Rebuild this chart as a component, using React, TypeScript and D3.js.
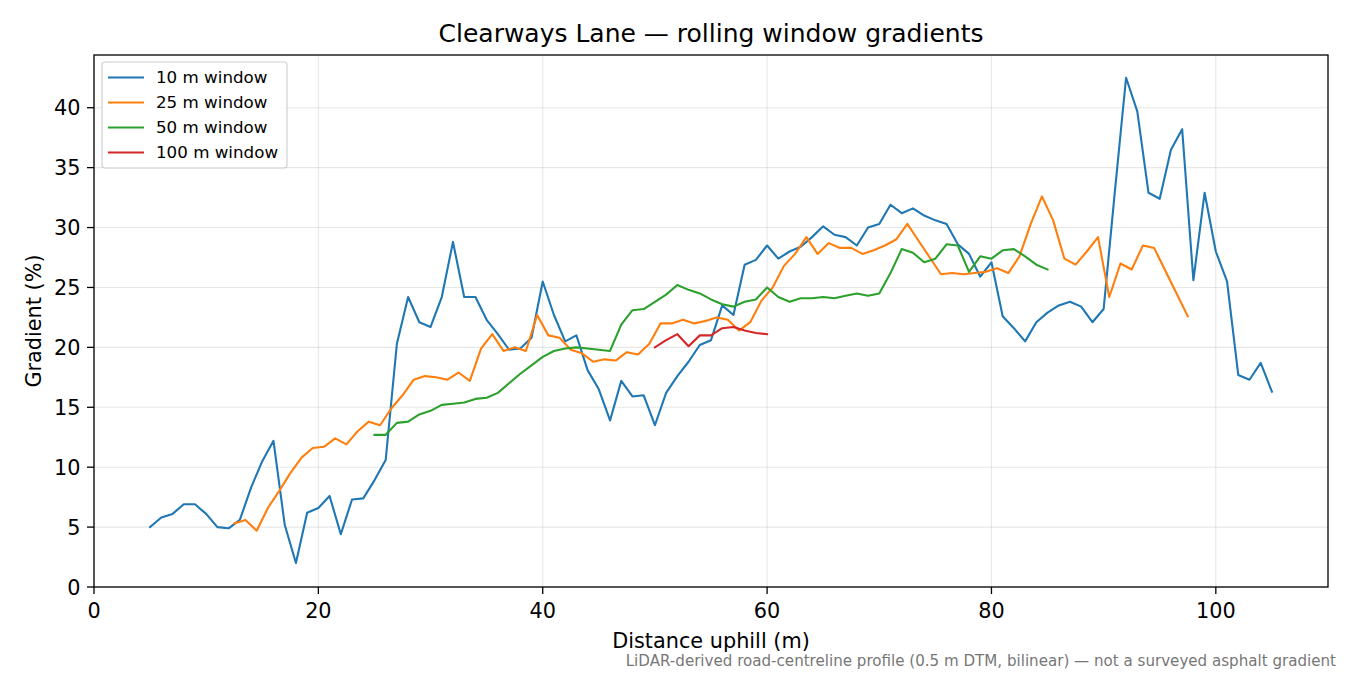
import React from "react";
import * as d3 from "d3";

const title = "Clearways Lane — rolling window gradients";
const xLabel = "Distance uphill (m)";
const yLabel = "Gradient (%)";
const footnote = "LiDAR-derived road-centreline profile (0.5 m DTM, bilinear) — not a surveyed asphalt gradient";

const xTicks = [0, 20, 40, 60, 80, 100];
const yTicks = [0, 5, 10, 15, 20, 25, 30, 35, 40];

const w10Start = 5;
const w10 = [
  5.0, 5.8, 6.1, 6.9, 6.9, 6.1, 5.0, 4.9, 5.6, 8.3, 10.5, 12.2, 5.2, 2.0, 6.2, 6.6, 7.6, 4.4, 7.3, 7.4,
  8.9, 10.6, 20.3, 24.2, 22.1, 21.7, 24.2, 28.8, 24.2, 24.2, 22.3, 21.1, 19.8, 19.9, 20.8, 25.5, 22.7, 20.5, 21.0, 18.1,
  16.5, 13.9, 17.2, 15.9, 16.0, 13.5, 16.2, 17.6, 18.8, 20.2, 20.6, 23.5, 22.7, 26.9, 27.3, 28.5, 27.4, 28.0, 28.4, 29.2,
  30.1, 29.4, 29.2, 28.5, 30.0, 30.3, 31.9, 31.2, 31.6, 31.0, 30.6, 30.3, 28.6, 27.8, 25.9, 27.1, 22.6, 21.6, 20.5, 22.1,
  22.9, 23.5, 23.8, 23.4, 22.1, 23.2, 33.0, 42.5, 39.7, 32.9, 32.4, 36.5, 38.2, 25.6, 32.9, 28.0, 25.5, 17.7, 17.3, 18.7,
  16.3,
];

const w25Start = 12.5;
const w25 = [
  5.3, 5.6, 4.7, 6.6, 8.0, 9.5, 10.8, 11.6, 11.7, 12.4, 11.9, 13.0, 13.8, 13.5, 14.9, 16.0, 17.3, 17.6, 17.5, 17.3,
  17.9, 17.2, 19.9, 21.1, 19.7, 20.0, 19.7, 22.7, 21.0, 20.8, 19.8, 19.5, 18.8, 19.0, 18.9, 19.6, 19.4, 20.3, 22.0, 22.0,
  22.3, 22.0, 22.2, 22.5, 22.3, 21.4, 22.1, 23.9, 25.0, 26.8, 27.8, 29.2, 27.8, 28.7, 28.3, 28.3, 27.8, 28.1, 28.5, 29.0,
  30.3, 28.9, 27.5, 26.1, 26.2, 26.1, 26.2, 26.3, 26.6, 26.2, 27.6, 30.3, 32.6, 30.6, 27.4, 26.9, 28.0, 29.2, 24.2, 27.0,
  26.5, 28.5, 28.3, 26.4, 24.5, 22.6,
];

const w50Start = 25;
const w50 = [
  12.7, 12.7, 13.7, 13.8, 14.4, 14.7, 15.2, 15.3, 15.4, 15.7, 15.8, 16.2, 17.0, 17.8, 18.5, 19.2, 19.7, 19.9, 20.0, 19.9,
  19.8, 19.7, 21.9, 23.1, 23.2, 23.8, 24.4, 25.2, 24.8, 24.5, 24.0, 23.6, 23.4, 23.8, 24.0, 25.0, 24.2, 23.8, 24.1, 24.1,
  24.2, 24.1, 24.3, 24.5, 24.3, 24.5, 26.2, 28.2, 27.9, 27.1, 27.4, 28.6, 28.5, 26.3, 27.6, 27.4, 28.1, 28.2, 27.6, 26.9,
  26.5,
];

const w100Start = 50;
const w100 = [20.0, 20.6, 21.1, 20.1, 21.0, 21.0, 21.6, 21.7, 21.4, 21.2, 21.1];

const seriesNames = ["10 m window", "25 m window", "50 m window", "100 m window"];
const seriesColors = ["#1f77b4", "#ff7f0e", "#2ca02c", "#d62728"];

const W = 1350;
const H = 675;
const left = 94;
const right = 1328;
const top = 55;
const bottom = 587;
const font = "'DejaVu Sans', sans-serif";

export default function App() {
  const x = d3.scaleLinear().domain([0, 110]).range([left, right]);
  const y = d3.scaleLinear().domain([0, 44.4]).range([bottom, top]);
  const line = d3
    .line<[number, number]>()
    .x((d) => x(d[0]))
    .y((d) => y(d[1]));
  const series = [
    w10.map((v, i) => [w10Start + i, v] as [number, number]),
    w25.map((v, i) => [w25Start + i, v] as [number, number]),
    w50.map((v, i) => [w50Start + i, v] as [number, number]),
    w100.map((v, i) => [w100Start + i, v] as [number, number]),
  ];

  return (
    <svg
      width={W}
      height={H}
      style={{ position: "absolute", left: 0, top: 0, background: "#fff" }}
      fontFamily={font}
    >
      <rect x={0} y={0} width={W} height={H} fill="#fff" />
      {xTicks.map((t) => (
        <line key={"gx" + t} x1={x(t)} x2={x(t)} y1={top} y2={bottom} stroke="#b0b0b0" strokeOpacity={0.3} strokeWidth={1.1} />
      ))}
      {yTicks.map((t) => (
        <line key={"gy" + t} x1={left} x2={right} y1={y(t)} y2={y(t)} stroke="#b0b0b0" strokeOpacity={0.3} strokeWidth={1.1} />
      ))}
      <defs>
        <clipPath id="plotclip">
          <rect x={left} y={top} width={right - left} height={bottom - top} />
        </clipPath>
      </defs>
      <g clipPath="url(#plotclip)">
        {series.map((s, i) => (
          <path key={i} d={line(s) || ""} fill="none" stroke={seriesColors[i]} strokeWidth={2.1} strokeLinejoin="round" strokeLinecap="square" />
        ))}
      </g>
      <rect x={left} y={top} width={right - left} height={bottom - top} fill="none" stroke="#000" strokeWidth={1.3} />
      {xTicks.map((t) => (
        <g key={"xt" + t}>
          <line x1={x(t)} x2={x(t)} y1={bottom} y2={bottom + 7} stroke="#000" strokeWidth={1.3} />
          <text x={x(t)} y={617.5} textAnchor="middle" fontSize={20.8} fill="#000">
            {t}
          </text>
        </g>
      ))}
      {yTicks.map((t) => (
        <g key={"yt" + t}>
          <line x1={left - 7} x2={left} y1={y(t)} y2={y(t)} stroke="#000" strokeWidth={1.3} />
          <text x={80.5} y={y(t) + 7.6} textAnchor="end" fontSize={20.8} fill="#000">
            {t}
          </text>
        </g>
      ))}
      <text x={(left + right) / 2} y={42} textAnchor="middle" fontSize={25} fill="#000">
        {title}
      </text>
      <text x={(left + right) / 2} y={648} textAnchor="middle" fontSize={20.8} fill="#000">
        {xLabel}
      </text>
      <text transform={`translate(41, ${(top + bottom) / 2}) rotate(-90)`} textAnchor="middle" fontSize={20.8} fill="#000">
        {yLabel}
      </text>
      <text x={1336} y={666} textAnchor="end" fontSize={15.1} fill="#777">
        {footnote}
      </text>
      <g>
        <rect x={102} y={62} width={185} height={106} rx={3} fill="#fff" fillOpacity={0.8} stroke="#ccc" strokeWidth={1.1} />
        {seriesNames.map((n, i) => (
          <g key={n}>
            <line x1={108} x2={144} y1={77.5 + i * 25} y2={77.5 + i * 25} stroke={seriesColors[i]} strokeWidth={2.1} />
            <text x={156} y={83 + i * 25} fontSize={16.7} fill="#000">
              {n}
            </text>
          </g>
        ))}
      </g>
    </svg>
  );
}
